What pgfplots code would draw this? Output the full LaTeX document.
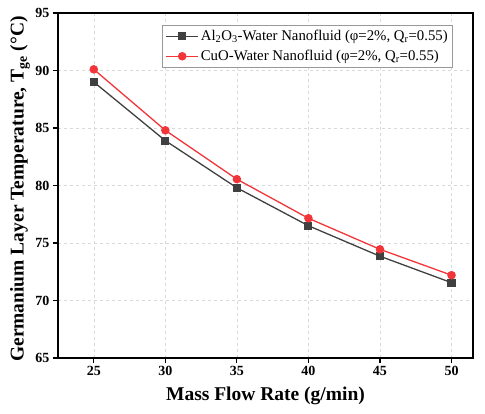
\documentclass[border=0pt]{standalone}
\usepackage{pgfplots}
\pgfplotsset{compat=1.18}
\usepackage{fontspec}
\setmainfont{Liberation Serif}
\definecolor{dgray}{HTML}{404040}
\definecolor{myred}{HTML}{F23539}
\begin{document}
\begin{tikzpicture}
\begin{axis}[
  name=ax,
  scale only axis,
  width=415pt, height=345pt,
  xmin=22.5, xmax=51.5,
  ymin=65, ymax=95,
  xtick={25,30,35,40,45,50},
  ytick={65,70,75,80,85,90,95},
  xtick pos=left, ytick pos=left,
  tick align=outside,
  major tick length=5pt,
  axis line style={line width=1.3pt},
  every tick/.style={black, line width=1.2pt},
  grid=major,
  major grid style={dashed, gray!30, line width=0.5pt},
  /pgf/number format/assume math mode=true,
  ticklabel style={font=\fontsize{14}{16}\selectfont\bfseries},
  xlabel={Mass Flow Rate (g/min)},
  ylabel={Germanium Layer Temperature, T\textsubscript{ge} (°C)},
  label style={font=\fontsize{19.5}{22}\selectfont\bfseries},
  xlabel style={at={(rel axis cs:0.5,0)}, anchor=center, yshift=-38pt},
  ylabel style={at={(rel axis cs:0,0.49)}, anchor=center, yshift=38pt},
  legend style={at={(0.952,0.965)}, anchor=north east, draw=gray!80, line width=0.6pt,
    font=\fontsize{14.8}{17}\selectfont, row sep=4pt, inner sep=3pt},
  legend cell align=left,
  legend image code/.code={
    \draw[mark repeat=2,mark phase=2] plot coordinates {(0pt,0pt) (16pt,0pt) (32pt,0pt)};
  },
]
\addplot[color=dgray, line width=1.3pt, mark=square*, mark size=3.4pt, mark options={fill=dgray, draw=dgray}]
  coordinates {(25,89.0) (30,83.9) (35,79.8) (40,76.5) (45,73.85) (50,71.55)};
\addlegendentry{Al\textsubscript{2}O\textsubscript{3}-Water Nanofluid (φ=2\%, Q\textsubscript{r}=0.55)}
\addplot[color=myred, line width=1.3pt, mark=*, mark size=3.6pt, mark options={fill=myred, draw=myred}]
  coordinates {(25,90.1) (30,84.8) (35,80.55) (40,77.15) (45,74.45) (50,72.2)};
\addlegendentry{CuO-Water Nanofluid (φ=2\%, Q\textsubscript{r}=0.55)}
\end{axis}
\pgfresetboundingbox
\path[use as bounding box] ([shift={(-58pt,-55pt)}]ax.south west) rectangle ([shift={(12pt,13pt)}]ax.north east);
\end{tikzpicture}
\end{document}
